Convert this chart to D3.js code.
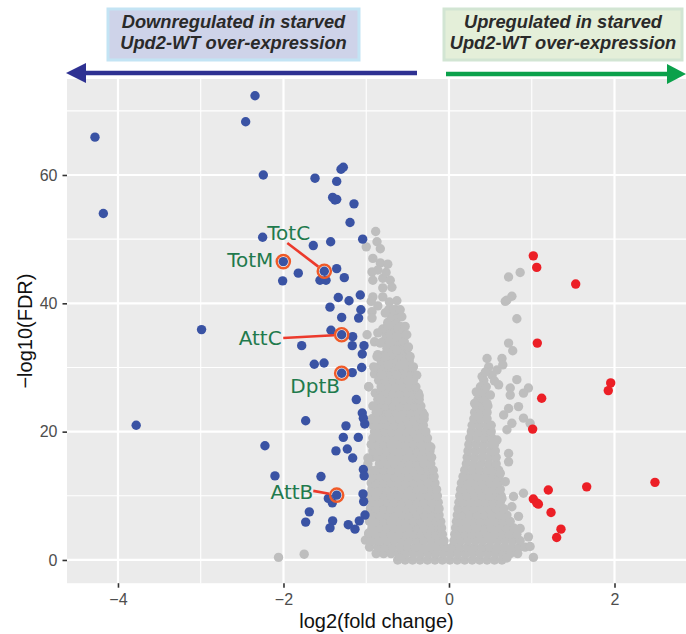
<!DOCTYPE html>
<html>
<head>
<meta charset="utf-8">
<script src="https://cdn.jsdelivr.net/npm/d3@7"></script>
<style>
  body { margin: 0; background: #ffffff; }
  svg { display: block; }
</style>
</head>
<body>
<svg id="chart" width="686" height="634"></svg>
<script>
// ---- Data -------------------------------------------------------------
// Axis ticks
const xTicks = [-4, -2, 0, 2];
const xMinor = [-3, -1, 1];
const yTicks = [0, 20, 40, 60];
const yMinor = [10, 30, 50, 70];

// Significantly down-regulated genes: [log2 fold change, -log10 FDR]
const downGenes = [
  [-2.344, 72.35], [-2.457, 68.3], [-4.278, 65.9], [-2.244, 60.0], [-4.177, 54.0],
  [-2.252, 50.3], [-1.821, 44.7], [-2.01, 43.5], [-1.64, 49.0], [-1.43, 49.6],
  [-1.196, 52.6], [-1.148, 55.5], [-1.378, 56.1], [-1.043, 50.0], [-1.357, 45.4],
  [-1.265, 44.0], [-1.559, 43.6], [-1.486, 43.6], [-1.338, 40.9], [-1.208, 40.4],
  [-1.072, 41.3], [-1.438, 39.4], [-1.065, 39.0], [-1.297, 37.8], [-1.092, 37.7],
  [-2.99, 35.9], [-1.426, 35.8], [-1.164, 34.8], [-1.78, 33.4], [-1.169, 33.4],
  [-1.027, 33.4], [-1.048, 32.1], [-1.628, 30.5], [-1.51, 30.7], [-1.055, 30.0],
  [-1.169, 29.2], [-1.12, 25.0], [-1.048, 22.9], [-1.035, 22.1], [-1.018, 21.2],
  [-1.732, 21.7], [-1.245, 20.9], [-2.224, 17.8], [-1.277, 19.1], [-1.096, 19.1],
  [-1.366, 17.0], [-1.229, 17.3], [-1.164, 15.9], [-2.103, 13.1], [-1.547, 13.0],
  [-1.035, 14.1], [-1.025, 13.1], [-1.458, 9.6], [-1.41, 8.9], [-1.039, 10.3],
  [-1.031, 9.1], [-1.688, 7.5], [-1.015, 7.0], [-1.084, 6.1], [-1.732, 5.9],
  [-1.406, 6.1], [-1.438, 5.0], [-1.217, 5.5], [-1.136, 4.8], [-1.277, 61.2],
  [-1.305, 60.9], [-1.619, 59.5], [-1.357, 59.0], [-1.406, 56.5], [-1.357, 56.2],
  [-3.78, 21.0]
];

// Significantly up-regulated genes
const upGenes = [
  [1.019, 47.4], [1.06, 45.6], [1.531, 43.0], [1.067, 33.8], [1.954, 27.6],
  [1.925, 26.4], [1.12, 25.2], [1.011, 20.4], [2.489, 12.1], [1.664, 11.4],
  [1.2, 10.9], [1.019, 9.5], [1.06, 8.9], [1.08, 8.7], [1.233, 7.4],
  [1.353, 4.8], [1.301, 3.5]
];

// Highlighted immune-response genes (all down-regulated)
const labelGenes = ["TotC", "TotM", "AttC", "DptB", "AttB"];
const labelFC    = [-1.507, -2.002, -1.297, -1.297, -1.357];
const labelFDR   = [45.0, 46.5, 35.1, 29.1, 10.1];

// Genes without significant change, grouped by -log10 FDR level: [FDR, [log2FC ...]]
const otherRows = [
  [0, [-0.62,-0.53,-0.44,-0.35,-0.26,-0.17,-0.08,0.01,0.1,0.19,0.28,0.37,0.46,0.55,0.64]],
  [1, [-0.88,-0.79,-0.7,-0.61,-0.52,-0.43,-0.34,-0.25,-0.16,-0.07,0.02,0.11,0.2,0.29,0.38,0.47,0.56,0.65,0.74,0.83]],
  [2, [-0.96,-0.86,-0.77,-0.68,-0.59,-0.5,-0.41,-0.32,-0.23,-0.14,-0.05,0.04,0.13,0.22,0.31,0.4,0.49,0.58,0.67,0.76,0.85,0.92]],
  [3, [-0.93,-0.84,-0.75,-0.66,-0.57,-0.48,-0.39,-0.3,-0.21,-0.12,-0.06,0.06,0.14,0.23,0.32,0.41,0.5,0.59,0.68,0.77,0.86]],
  [4, [-0.97,-0.88,-0.79,-0.7,-0.61,-0.52,-0.43,-0.34,-0.25,-0.16,-0.08,0.07,0.1,0.19,0.28,0.37,0.46,0.55,0.64,0.73,0.82]],
  [5, [-0.93,-0.84,-0.75,-0.66,-0.57,-0.48,-0.39,-0.3,-0.21,-0.12,-0.09,0.08,0.15,0.24,0.33,0.42,0.51,0.6,0.69,0.78]],
  [6, [-0.96,-0.88,-0.79,-0.7,-0.61,-0.52,-0.43,-0.34,-0.25,-0.16,-0.1,0.09,0.11,0.2,0.29,0.38,0.47,0.56,0.65,0.74]],
  [7, [-0.93,-0.84,-0.75,-0.66,-0.57,-0.48,-0.39,-0.3,-0.21,-0.12,0.1,0.16,0.25,0.34,0.43,0.52,0.61,0.7]],
  [8, [-0.95,-0.88,-0.79,-0.7,-0.61,-0.52,-0.43,-0.34,-0.25,-0.16,-0.12,0.11,0.21,0.3,0.39,0.48,0.57,0.66]],
  [9, [-0.93,-0.84,-0.75,-0.66,-0.57,-0.48,-0.39,-0.3,-0.21,-0.13,0.12,0.17,0.26,0.35,0.44,0.53,0.62]],
  [10, [-0.96,-0.88,-0.79,-0.7,-0.61,-0.52,-0.43,-0.34,-0.25,-0.16,-0.14,0.13,0.22,0.31,0.4,0.49,0.58,0.63]],
  [11, [-0.93,-0.84,-0.75,-0.66,-0.57,-0.48,-0.39,-0.3,-0.21,-0.15,0.14,0.18,0.27,0.36,0.45,0.54,0.62]],
  [12, [-0.94,-0.88,-0.79,-0.7,-0.61,-0.52,-0.43,-0.34,-0.25,-0.17,0.15,0.23,0.32,0.41,0.5,0.59]],
  [13, [-0.92,-0.84,-0.75,-0.66,-0.57,-0.48,-0.39,-0.3,-0.21,-0.18,0.17,0.26,0.35,0.44,0.53,0.6]],
  [14, [-0.95,-0.88,-0.79,-0.7,-0.61,-0.52,-0.43,-0.34,-0.25,-0.19,0.19,0.28,0.37,0.46,0.55,0.6]],
  [15, [-0.98,-0.84,-0.75,-0.66,-0.57,-0.48,-0.39,-0.3,-0.22,0.21,0.3,0.39,0.48,0.57]],
  [16, [-0.93,-0.86,-0.79,-0.7,-0.61,-0.52,-0.43,-0.34,-0.26,-0.21,0.22,0.31,0.4,0.49,0.57]],
  [17, [-0.92,-0.84,-0.75,-0.66,-0.57,-0.48,-0.39,-0.3,-0.23,0.23,0.32,0.41,0.5,0.56]],
  [18, [-0.94,-0.87,-0.79,-0.7,-0.61,-0.52,-0.43,-0.34,-0.26,0.24,0.33,0.42,0.51,0.55]],
  [19, [-0.92,-0.84,-0.75,-0.66,-0.57,-0.48,-0.39,-0.31,-0.26,0.25,0.34,0.43,0.52]],
  [20, [-0.9,-0.83,-0.77,-0.69,-0.61,-0.52,-0.43,-0.35,-0.28,0.27,0.36,0.45,0.51]],
  [21, [-0.92,-0.84,-0.75,-0.66,-0.57,-0.48,-0.39,-0.31,0.28,0.37,0.46,0.51]],
  [22, [-0.93,-0.86,-0.78,-0.69,-0.6,-0.51,-0.42,-0.34,-0.3,0.3,0.38,0.46]],
  [23, [-0.88,-0.82,-0.73,-0.64,-0.55,-0.46,-0.38,-0.32,0.31,0.39,0.46]],
  [24, [-0.92,-0.84,-0.77,-0.68,-0.59,-0.5,-0.42,-0.34,0.33,0.41,0.47]],
  [25, [-0.86,-0.8,-0.73,-0.64,-0.55,-0.46,-0.39,-0.36,0.35,0.42]],
  [26, [-0.89,-0.82,-0.75,-0.68,-0.59,-0.5,-0.43,-0.37,0.36,0.44]],
  [27, [-0.97,-0.82,-0.73,-0.64,-0.55,-0.47,-0.4,0.38,0.45]],
  [28, [-0.85,-0.77,-0.68,-0.59,-0.5,-0.43,0.42]],
  [29, [-0.9,-0.82,-0.73,-0.64,-0.55,-0.46]],
  [30, [-0.86,-0.78,-0.69,-0.6,-0.51,-0.44]],
  [31, [-0.82,-0.73,-0.64,-0.55,-0.48]],
  [32, [-0.86,-0.78,-0.69,-0.6,-0.51]],
  [33, [-0.75,-0.66,-0.57,-0.5]],
  [34, [-0.9,-0.8,-0.71,-0.62,-0.54]],
  [35, [-0.76,-0.67,-0.58]],
  [36, [-0.8,-0.7,-0.62,-0.56]],
  [37, [-0.74,-0.64]],
  [38, [-0.7,-0.62]],
  [39, [-0.73,-0.64]]
];

// Remaining non-significant genes at the fringes of the cloud: [log2FC, -log10 FDR]
const otherSparse = [
  [-0.886, 51.2], [-0.87, 49.6], [-0.83, 48.5], [-1.0, 48.8], [-0.92, 47.0],
  [-0.83, 46.3], [-0.74, 46.1], [-0.93, 44.9], [-0.92, 43.6], [-0.8, 43.9],
  [-0.71, 43.6], [-0.8, 42.4], [-0.69, 42.5], [-0.92, 41.0], [-0.94, 40.3],
  [-0.63, 40.4], [-0.67, 39.0], [-0.77, 38.5], [-0.59, 39.0], [-0.57, 37.9],
  [-0.93, 38.7], [-0.93, 37.7], [-0.74, 36.6], [-0.59, 36.4], [-0.53, 36.4],
  [-0.99, 35.1], [-0.86, 35.4], [-0.83, 33.8], [-0.71, 35.1], [-0.63, 34.8],
  [-0.51, 35.1], [-0.49, 33.2], [-0.63, 32.7], [-0.77, 31.7], [-0.87, 31.7],
  [-0.47, 31.7], [-0.91, 30.1], [-0.74, 30.4], [-0.59, 30.4], [-0.43, 30.1],
  [-0.81, 28.8], [-0.63, 28.8], [-0.39, 28.8], [-0.76, 44.8], [-0.86, 45.2],
  [-0.86, 39.6], [-0.8, 41.0], [-0.72, 40.2], [-0.36, 25.6], [-0.3, 22.6],
  [-0.97, 27.0], [-0.83, 25.2], [-0.86, 23.1], [-0.98, 15.9], [-1.01, 3.1],
  [-0.97, 4.2], [-2.06, 0.4], [-1.75, 0.9], [-0.59, 0.3], [-0.22, 17.6],
  [0.72, 44.1], [0.86, 44.8], [0.70, 40.5], [0.76, 41.1], [0.68, 40.3],
  [0.82, 37.6], [0.72, 33.8], [0.77, 32.6], [0.46, 31.4], [0.64, 31.4],
  [0.48, 30.1], [0.65, 30.4], [0.58, 29.6], [0.40, 28.6], [0.52, 28.8],
  [0.60, 27.3], [0.82, 28.1], [0.96, 26.8], [0.90, 26.0], [0.74, 26.8],
  [0.74, 25.7], [0.33, 26.2], [0.50, 25.7], [0.31, 24.4], [0.46, 24.4],
  [0.72, 23.6], [0.84, 23.9], [0.66, 22.6], [0.90, 22.1], [0.76, 21.3],
  [0.98, 21.3], [0.70, 20.3], [0.58, 18.7], [0.72, 16.6], [0.72, 15.3],
  [0.62, 13.5], [0.68, 12.2], [0.90, 10.4], [0.78, 9.9], [0.64, 9.6],
  [0.76, 8.3], [0.84, 6.8], [0.86, 4.9], [0.96, 3.6], [0.98, 2.1],
  [1.02, 0.4], [0.70, 0.3], [0.55, 27.9], [0.44, 29.3]
];

// ---- Layout -----------------------------------------------------------
const svg = d3.select("#chart");
const panel = { left: 67, right: 686, top: 79, bottom: 583.2 };
const pointR = 4.7;

const x = d3.scaleLinear().domain([-4.616, 2.864]).range([panel.left, panel.right]);
const y = d3.scaleLinear().domain([-3.62, 74.96]).range([panel.bottom, panel.top]);

const axisFont = "'Liberation Sans', Arial, Helvetica, sans-serif";

// Panel background
svg.append("rect")
  .attr("x", panel.left).attr("y", panel.top)
  .attr("width", panel.right - panel.left).attr("height", panel.bottom - panel.top)
  .attr("fill", "#EBEBEB");

// Grid lines
const grid = svg.append("g");
grid.selectAll(".xminor").data(xMinor).join("line")
  .attr("x1", d => x(d)).attr("x2", d => x(d))
  .attr("y1", panel.top).attr("y2", panel.bottom)
  .attr("stroke", "#fff").attr("stroke-width", 1.1);
grid.selectAll(".yminor").data(yMinor).join("line")
  .attr("y1", d => y(d)).attr("y2", d => y(d))
  .attr("x1", panel.left).attr("x2", panel.right)
  .attr("stroke", "#fff").attr("stroke-width", 1.1);
grid.selectAll(".xmajor").data(xTicks).join("line")
  .attr("x1", d => x(d)).attr("x2", d => x(d))
  .attr("y1", panel.top).attr("y2", panel.bottom)
  .attr("stroke", "#fff").attr("stroke-width", 2.2);
grid.selectAll(".ymajor").data(yTicks).join("line")
  .attr("y1", d => y(d)).attr("y2", d => y(d))
  .attr("x1", panel.left).attr("x2", panel.right)
  .attr("stroke", "#fff").attr("stroke-width", 2.2);

// Axes (dark ticks, grey labels, no domain line)
const xAxis = svg.append("g")
  .attr("transform", `translate(0,${panel.bottom})`)
  .call(d3.axisBottom(x).tickValues(xTicks).tickSize(4.5).tickPadding(5)
    .tickFormat(d => d < 0 ? "\u2212" + Math.abs(d) : String(d)));
const yAxis = svg.append("g")
  .attr("transform", `translate(${panel.left},0)`)
  .call(d3.axisLeft(y).tickValues(yTicks).tickSize(4.5).tickPadding(5));
[xAxis, yAxis].forEach(g => {
  g.select(".domain").remove();
  g.selectAll(".tick line").attr("stroke", "#333").attr("stroke-width", 1.6);
  g.selectAll(".tick text").attr("fill", "#4D4D4D")
    .style("font-family", axisFont).style("font-size", "16px");
});
xAxis.selectAll(".tick text").attr("dy", "0.78em");

// Axis titles
svg.append("text")
  .attr("x", (panel.left + panel.right) / 2).attr("y", 628)
  .attr("text-anchor", "middle")
  .style("font-family", axisFont).style("font-size", "20px").attr("fill", "#111")
  .text("log2(fold change)");
svg.append("text")
  .attr("transform", `translate(32,${(panel.top + panel.bottom) / 2}) rotate(-90)`)
  .attr("text-anchor", "middle")
  .style("font-family", axisFont).style("font-size", "20px").attr("fill", "#111")
  .text("\u2212log10(FDR)");

// Points
const otherPts = otherRows.flatMap(([fdr, fcs]) => fcs.map(fc => [fc, fdr])).concat(otherSparse);
const pts = svg.append("g");
pts.selectAll(".other").data(otherPts).join("circle")
  .attr("cx", d => x(d[0])).attr("cy", d => y(d[1])).attr("r", pointR)
  .attr("fill", "#BEBEBE");
pts.selectAll(".up").data(upGenes).join("circle")
  .attr("cx", d => x(d[0])).attr("cy", d => y(d[1])).attr("r", pointR)
  .attr("fill", "#EC1F26");
pts.selectAll(".down").data(downGenes).join("circle")
  .attr("cx", d => x(d[0])).attr("cy", d => y(d[1])).attr("r", pointR)
  .attr("fill", "#3A53A4");

// Highlighted genes
const highlighted = labelGenes.map((g, i) => ({ gene: g, fc: labelFC[i], fdr: labelFDR[i] }));
pts.selectAll(".hl").data(highlighted).join("circle")
  .attr("cx", d => x(d.fc)).attr("cy", d => y(d.fdr)).attr("r", pointR)
  .attr("fill", "#3A53A4");

// Label placement relative to each highlighted point (pixels)
const labelLayout = {
  TotC: { dx: -57, dy: -31, anchor: "start", leader: [-37, -28.3] },
  TotM: { dx: -10, dy: 5, anchor: "end", leader: null },
  AttC: { dx: -60, dy: 10.7, anchor: "end", leader: [-58.4, 3.3] },
  DptB: { dx: -26.5, dy: 20, anchor: "middle", leader: null },
  AttB: { dx: -23.4, dy: 4, anchor: "end", leader: [-23.4, -4.3] }
};
const ringR = 6.6;
const ann = svg.append("g");
highlighted.forEach(d => {
  const cx = x(d.fc), cy = y(d.fdr), L = labelLayout[d.gene];
  if (L.leader) {
    const sx = cx + L.leader[0], sy = cy + L.leader[1];
    const len = Math.hypot(cx - sx, cy - sy);
    const ex = cx - (cx - sx) / len * (ringR + 1), ey = cy - (cy - sy) / len * (ringR + 1);
    ann.append("line").attr("x1", sx).attr("y1", sy).attr("x2", ex).attr("y2", ey)
      .attr("stroke", "#EC3A2C").attr("stroke-width", 2.6);
  }
  ann.append("circle").attr("cx", cx).attr("cy", cy).attr("r", ringR)
    .attr("fill", "none").attr("stroke", "#F05A28").attr("stroke-width", 2.4);
  ann.append("text").attr("x", cx + L.dx).attr("y", cy + L.dy)
    .attr("text-anchor", L.anchor)
    .style("font-family", "'DejaVu Sans', Verdana, sans-serif").style("font-size", "20px")
    .attr("fill", "#1F7A4D")
    .text(d.gene);
});

// Direction banners
const headFont = "'Liberation Sans', Arial, Helvetica, sans-serif";
const banners = [
  { x0: 108, x1: 359, fill: "#CED3E9", stroke: "#C3E4F4",
    lines: ["Downregulated in starved", "Upd2-WT over-expression"] },
  { x0: 444, x1: 682, fill: "#E4EFD9", stroke: "#D2E5D3",
    lines: ["Upregulated in starved", "Upd2-WT over-expression"] }
];
banners.forEach(b => {
  svg.append("rect").attr("x", b.x0).attr("y", 9).attr("width", b.x1 - b.x0).attr("height", 51)
    .attr("fill", b.fill).attr("stroke", b.stroke).attr("stroke-width", 3);
  b.lines.forEach((t, i) => {
    svg.append("text").attr("x", (b.x0 + b.x1) / 2).attr("y", 27.5 + i * 21.5)
      .attr("text-anchor", "middle")
      .style("font-family", headFont).style("font-size", "18.3px")
      .style("font-weight", "bold").style("font-style", "italic")
      .attr("fill", "#2A2A2A").text(t);
  });
});

// Direction arrows
svg.append("line").attr("x1", 417).attr("x2", 84).attr("y1", 73).attr("y2", 73)
  .attr("stroke", "#2E3192").attr("stroke-width", 4.4);
svg.append("path").attr("d", "M66,73 L86,63 L86,83 Z").attr("fill", "#2E3192");
svg.append("line").attr("x1", 446).attr("x2", 670).attr("y1", 74).attr("y2", 74)
  .attr("stroke", "#0BA14B").attr("stroke-width", 4.4);
svg.append("path").attr("d", "M686,74 L667,64 L667,84 Z").attr("fill", "#0BA14B");
</script>
</body>
</html>
